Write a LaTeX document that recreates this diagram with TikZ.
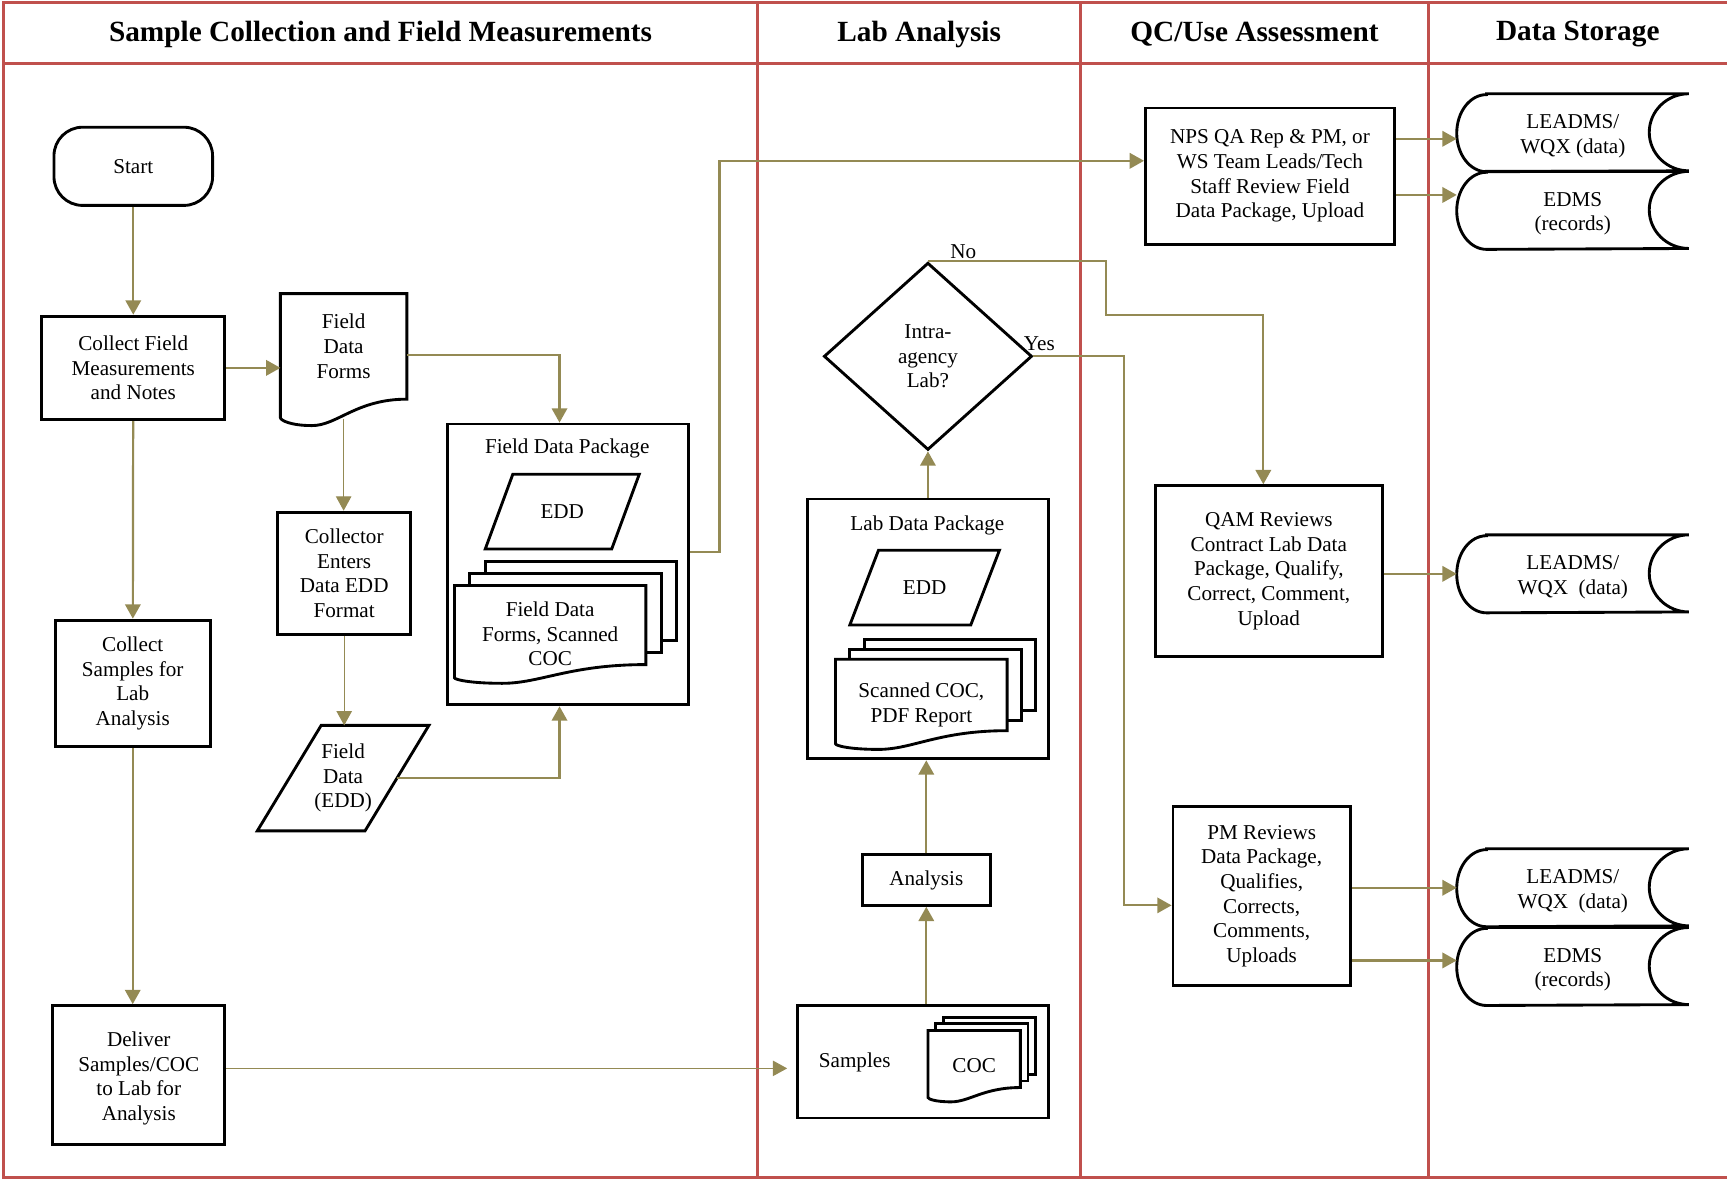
\documentclass[tikz,border=0pt]{standalone}
\usepackage{fontspec}
\setmainfont{Liberation Serif}
\usepackage{tikz}
\usetikzlibrary{shapes.geometric,backgrounds,arrows.meta,calc}
\usepackage{xcolor}
\definecolor{lanered}{HTML}{C0504D}
\definecolor{flowolive}{HTML}{948A54}
\newcommand{\boxfont}{\fontsize{9.6}{11.2}\selectfont}
\newcommand{\headfont}{\fontsize{13.3}{16}\selectfont\bfseries}

\tikzset{
  shapeline/.style={draw=black, line width=1.3pt},
  procbox/.style={rectangle, shapeline, align=center, inner sep=2pt, font=\boxfont},
  plain/.style={rectangle, align=center, inner sep=0pt, font=\boxfont},
  lane/.style={draw=lanered, line width=1.4pt},
  lanehead/.style={font=\headfont, inner sep=0pt},
  flow/.style={draw=flowolive, line width=1pt, -{Triangle[length=6.5pt,width=7pt]}},
  thinflow/.style={flow, line width=0.5pt},
}

% document sheet with a wavy lower edge
\newcommand{\docsheet}[3][]{%
  \draw[shapeline,#1] (#2.north west) -- (#2.north east) -- (#2.south east)
    .. controls ($(#2.south east)!0.4!(#2.south west)$) and ($(#2.south east)!0.55!(#2.south west)+(0,-#3)$)
    .. ($(#2.south east)!0.75!(#2.south west)+(0,-#3)$)
    .. controls ($(#2.south east)!0.92!(#2.south west)+(0,-#3)$) and ($(#2.south west)+(0,-0.8*#3)$)
    .. ($(#2.south west)+(0,-0.7*#3)$) -- cycle;}
% three sheets stacked
\newcommand{\docstack}[4]{%
  \begin{scope}[on background layer]
    \draw[shapeline,fill=white] ([shift={(2*#2,2*#3)}]#1.north west) rectangle ([shift={(2*#2,2*#3)}]#1.south east);
    \draw[shapeline,fill=white] ([shift={(#2,#3)}]#1.north west) rectangle ([shift={(#2,#3)}]#1.south east);
    \docsheet[fill=white]{#1}{#4}
  \end{scope}}
% data sheet, slanted
\newcommand{\slantbox}[2]{%
  \draw[shapeline] ([xshift=#2]#1.north west) -- (#1.north east) -- ([xshift=-#2]#1.south east) -- (#1.south west) -- cycle;}
% stored data
\newcommand{\storedata}[1]{%
  \draw[shapeline] ([xshift=13.5pt]#1.north west) -- (#1.north east)
    arc[start angle=90, end angle=270, x radius=18pt, y radius=17.5pt]
    -- ([xshift=13.5pt]#1.south west)
    arc[start angle=270, end angle=90, x radius=13.5pt, y radius=17.5pt] -- cycle;}

\begin{document}
\begin{tikzpicture}[x=0.5pt, y=-0.5pt]
        \useasboundingbox (0,0) rectangle (1568,1071);

        % swim lanes
        \draw[lane] (1568,2) -- (3,2) -- (3,1069) -- (1568,1069);
        \draw[lane] (3,58) -- (1568,58);
        \foreach \x in {688,981,1297}
                \draw[lane] (\x,2) -- (\x,1069);
        \node[lanehead] (h1) at (345.5,31) {Sample Collection and Field Measurements};
        \node[lanehead] (h2) at (834.5,31) {Lab Analysis};
        \node[lanehead] (h3) at (1139,31) {QC/Use Assessment};
        \node[lanehead] (h4) at (1432.5,31) {Data Storage};

        % field
        \node[procbox, rounded corners=13pt, minimum width=72pt, minimum height=35.5pt] (start) at (121,151) {Start};
        \node[procbox, minimum width=83pt, minimum height=47pt] (cfm) at (121,334) {Collect Field\\Measurements\\and Notes};
        \node[plain, minimum width=57pt, minimum height=47.5pt] (fdf) at (312,314.5) {Field\\Data\\Forms};
        \docsheet{fdf}{12pt}
        \node[procbox, minimum width=60.5pt, minimum height=55.5pt] (collector) at (312.5,520.5) {Collector\\Enters\\Data EDD\\Format};
        \node[plain, minimum width=77.5pt, minimum height=47.5pt] (fded) at (311.5,706.5) {Field\\Data\\(EDD)};
        \slantbox{fded}{29pt}
        \node[procbox, minimum width=70.5pt, minimum height=57.5pt] (csl) at (120.5,620.5) {Collect\\Samples for\\Lab\\Analysis};
        \node[procbox, minimum width=78pt, minimum height=63pt] (deliver) at (126,976) {};
        \node[plain] (delivertxt) at ([yshift=-1.5pt]deliver) {Deliver\\Samples/COC\\to Lab for\\Analysis};

        \node[procbox, minimum width=109.5pt, minimum height=127.5pt] (fdp) at (515.5,512.5) {};
        \node[plain] (fdptitle) at (515,407) {Field Data Package};
        \node[plain, minimum width=69.5pt, minimum height=33.5pt] (fdpedd) at (510.5,464.5) {EDD};
        \slantbox{fdpedd}{12.5pt}
        \node[plain, minimum width=86.5pt, minimum height=35.5pt] (fdpforms) at (499.5,567.5) {};
        \node[plain] (fdpformstxt) at ([yshift=-4pt]fdpforms) {Field Data\\Forms, Scanned\\COC};
        \docstack{fdpforms}{7pt}{5.5pt}{8.5pt}

        % lab
        \node[procbox, minimum width=114pt, minimum height=51pt] (samples) at (838,964) {};
        \node[plain] (samplestxt) at (776,965) {Samples};
        \node[plain, minimum width=41.5pt, minimum height=25.5pt] (coc) at (884.5,961.5) {};
        \node[plain] (coctxt) at ([yshift=-3pt]coc) {COC};
        \docstack{coc}{3.5pt}{3pt}{6.5pt}
        \node[procbox, minimum width=58pt, minimum height=23pt] (analysis) at (841,799) {Analysis};
        \node[procbox, minimum width=109.5pt, minimum height=118pt] (ldp) at (842.5,571) {};
        \node[plain] (ldptitle) at (842,477) {Lab Data Package};
        \node[plain, minimum width=67.5pt, minimum height=33.5pt] (ldpedd) at (839.5,533.5) {EDD};
        \slantbox{ldpedd}{13pt}
        \node[plain, minimum width=77.5pt, minimum height=32pt] (ldpdocs) at (836.5,631) {};
        \node[plain] (ldpdocstxt) at ([yshift=-4.5pt]ldpdocs) {Scanned COC,\\PDF Report};
        \docstack{ldpdocs}{6.5pt}{4.5pt}{8.5pt}
        \node[diamond, shapeline, minimum width=94.5pt, minimum height=85pt, inner sep=0pt, align=center, font=\boxfont] (lab) at (842.5,323.5) {Intra-\\agency\\Lab?};

        % review
        \node[procbox, minimum width=113pt, minimum height=62pt] (nps) at (1153,160) {NPS QA Rep \& PM, or\\WS Team Leads/Tech\\Staff Review Field\\Data Package, Upload};
        \node[procbox, minimum width=103pt, minimum height=77.5pt] (qam) at (1152,518.5) {QAM Reviews\\Contract Lab Data\\Package, Qualify,\\Correct, Comment,\\Upload};
        \node[procbox, minimum width=80.5pt, minimum height=81.5pt] (pm) at (1145.5,813.5) {PM Reviews\\Data Package,\\Qualifies,\\Corrects,\\Comments,\\Uploads};

        % storage
        \node[plain, minimum width=105pt, minimum height=35pt] (st1) at (1428,120.5) {};
        \node[plain, minimum width=105pt, minimum height=35pt] (st2) at (1428,191) {};
        \node[plain, minimum width=105pt, minimum height=35pt] (st3) at (1428,521) {};
        \node[plain, minimum width=105pt, minimum height=35pt] (st4) at (1428,806) {};
        \node[plain, minimum width=105pt, minimum height=35pt] (st5) at (1428,877.5) {};
        \node[plain] at ([yshift=-1.5pt]st1) {LEADMS/\\WQX (data)};
        \node[plain] at ([yshift=-1.5pt]st2) {EDMS\\(records)};
        \node[plain] at ([yshift=-1.5pt]st3) {LEADMS/\\WQX\ \ (data)};
        \node[plain] at ([yshift=-1.5pt]st4) {LEADMS/\\WQX\ \ (data)};
        \node[plain] at ([yshift=-1.5pt]st5) {EDMS\\(records)};
        \storedata{st1}
        \storedata{st2}
        \storedata{st3}
        \storedata{st4}
        \storedata{st5}

        % connectors
        \draw[flow] (start) -- (cfm);
        \draw[flow] (cfm.east) -- (cfm.east -| fdf.west);
        \draw[flow] (cfm) -- (csl);
        \draw[flow] (csl.south) -- (csl.south |- deliver.north);
        \draw[flow] ([yshift=-3.75pt]fdf.east) -| ([xshift=-3.75pt]fdp.north);
        \draw[thinflow] ([yshift=-9pt]fdf.south) -- (fdf.south |- collector.north);
        \draw[thinflow] (collector.south) -- (collector.south |- fded.north);
        \draw[flow] ([xshift=-14.5pt]fded.east) -| ([xshift=-3.75pt]fdp.south);
        \draw[flow] ([yshift=5.5pt]fdp.east) -- ++(13.5pt,0) |- ([yshift=7pt]nps.west);
        \draw[thinflow, shorten >=4pt] ([yshift=3pt]deliver.east) -- ([yshift=3pt]deliver.east -| samples.west);
        \draw[flow] (analysis.south |- samples.north) -- (analysis.south);
        \draw[flow] (analysis.north) -- (analysis.north |- ldp.south);
        \draw[flow] (ldp.north) -- (lab.south);
        \draw[flow] (lab.north) -- ++(81pt,0) -- ++(0,-24.5pt) -| ([xshift=-2.5pt]qam.north);
        \draw[flow] (lab.east) -- ++(41pt,0) |- ([yshift=-4.25pt]pm.west);
        \node[plain, anchor=south west] (no) at ([xshift=10pt,yshift=1pt]lab.north) {No};
        \node[plain, anchor=south west] (yes) at ([xshift=-4.5pt,yshift=2.5pt]lab.east) {Yes};
        \draw[flow] ([yshift=-2.75pt]st1.west -| nps.east) -- ([yshift=-2.75pt]st1.west);
        \draw[flow] ([yshift=7pt]st2.west -| nps.east) -- ([yshift=7pt]st2.west);
        \draw[flow] (qam.east |- st3.west) -- (st3.west);
        \draw[flow] (pm.east |- st4.west) -- (st4.west);
        \draw[flow] ([yshift=2.75pt]st5.west -| pm.east) -- ([yshift=2.75pt]st5.west);
\end{tikzpicture}
\end{document}
